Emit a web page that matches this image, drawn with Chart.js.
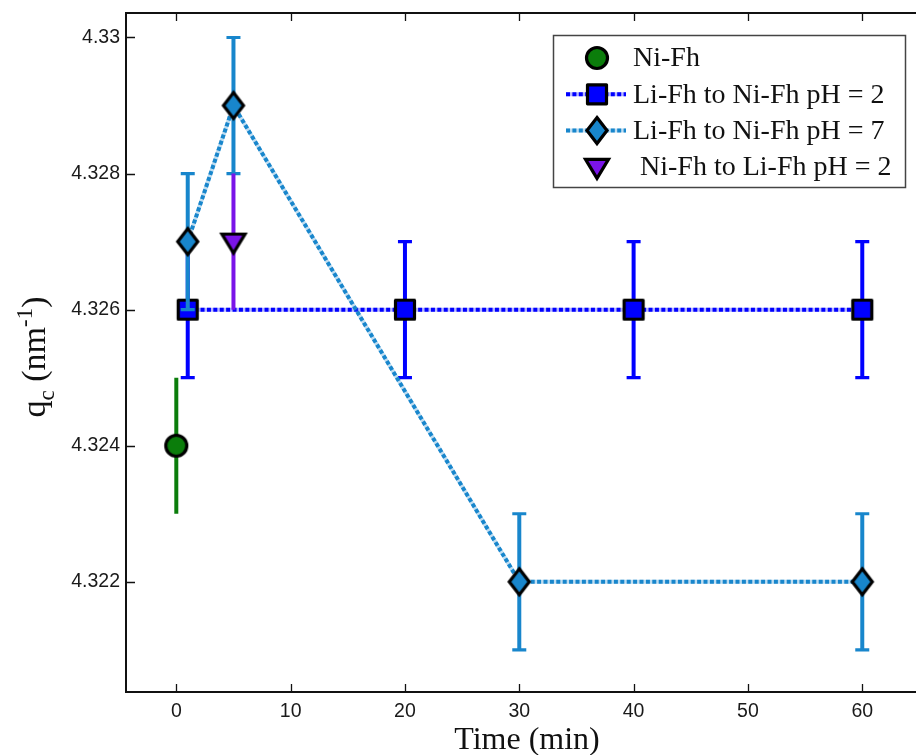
<!DOCTYPE html>
<html>
<head>
<meta charset="utf-8">
<script src="https://cdn.jsdelivr.net/npm/chart.js@4/dist/chart.umd.min.js"></script>
<style>
  html, body { margin: 0; padding: 0; background: #fff; }
</style>
</head>
<body>
<canvas id="qcChart" width="916" height="755"></canvas>
<script>
// data
const seriesNames = ['Ni-Fh', 'Li-Fh to Ni-Fh pH = 2', 'Li-Fh to Ni-Fh pH = 7', ' Ni-Fh to Li-Fh pH = 2'];

const niTime = [0];
const niQc = [4.324];
const niErr = [0.001];

const li2Time = [1, 20, 40, 60];
const li2Qc = [4.326, 4.326, 4.326, 4.326];
const li2Err = [0.001, 0.001, 0.001, 0.001];

const li7Time = [1, 5, 30, 60];
const li7Qc = [4.327, 4.329, 4.322, 4.322];
const li7Err = [0.001, 0.001, 0.001, 0.001];

const revTime = [5];
const revQc = [4.327];
const revErr = [0.001];

const xTicks = [0, 10, 20, 30, 40, 50, 60];
const yTicks = [4.322, 4.324, 4.326, 4.328, 4.33];
const yTickLabels = ['4.322', '4.324', '4.326', '4.328', '4.33'];

const serif = 'Liberation Serif, Times New Roman, serif';
const sans = 'Liberation Sans, Arial, sans-serif';

// marker shapes, drawn once and used as point styles
function drawMarker(ctx, kind, cx, cy, fill) {
    ctx.save();
    ctx.fillStyle = fill;
    ctx.strokeStyle = '#000';
    ctx.lineWidth = 3.2;
    ctx.lineJoin = 'round';
    ctx.beginPath();
    if (kind === 'circle') {
        ctx.arc(cx, cy, 10.5, 0, Math.PI * 2);
    } else if (kind === 'square') {
        ctx.rect(cx - 9.5, cy - 9.5, 19, 19);
    } else if (kind === 'diamond') {
        ctx.lineJoin = 'miter';
        ctx.moveTo(cx, cy - 13);
        ctx.lineTo(cx + 10, cy);
        ctx.lineTo(cx, cy + 13);
        ctx.lineTo(cx - 10, cy);
        ctx.closePath();
    } else if (kind === 'tridown') {
        ctx.lineJoin = 'miter';
        ctx.moveTo(cx - 11.5, cy - 7.5);
        ctx.lineTo(cx + 11.5, cy - 7.5);
        ctx.lineTo(cx, cy + 11.5);
        ctx.closePath();
    }
    ctx.fill();
    ctx.stroke();
    ctx.restore();
}

function makeMarker(kind, fill) {
    const c = document.createElement('canvas');
    c.width = 36;
    c.height = 36;
    drawMarker(c.getContext('2d'), kind, 18, 18, fill);
    return c;
}

const green = '#0b7d0b';
const blue = '#0000ff';
const lightBlue = '#1886cc';
const purple = '#7a14e8';

const seriesStyle = [
    { color: green, marker: 'circle', line: false, caps: false },
    { color: blue, marker: 'square', line: true, caps: true },
    { color: lightBlue, marker: 'diamond', line: true, caps: true },
    { color: purple, marker: 'tridown', line: false, caps: false }
];
const seriesErr = [niErr, li2Err, li7Err, revErr];
const seriesX = [niTime, li2Time, li7Time, revTime];
const seriesY = [niQc, li2Qc, li7Qc, revQc];

function toPoints(xs, ys) {
    return xs.map((x, i) => ({ x: x, y: ys[i] }));
}

const datasets = seriesNames.map((name, i) => ({
    label: name,
    data: toPoints(seriesX[i], seriesY[i]),
    showLine: seriesStyle[i].line,
    borderColor: seriesStyle[i].color,
    borderWidth: 4,
    borderDash: [4, 2.4],
    backgroundColor: seriesStyle[i].color,
    pointStyle: makeMarker(seriesStyle[i].marker, seriesStyle[i].color),
    pointRadius: 10,
    pointHoverRadius: 10,
    order: seriesNames.length - i,
    clip: false
}));

const extras = {
    id: 'extras',
    beforeDatasetDraw(chart, args) {
        const i = args.index;
        const ctx = chart.ctx;
        const xs = chart.scales.x, ys = chart.scales.y;
        const st = seriesStyle[i];
        ctx.save();
        // pale solid line under the dotted one
        if (st.line) {
            const pts = chart.getDatasetMeta(i).data;
            ctx.strokeStyle = st.color;
            ctx.globalAlpha = 0.28;
            ctx.lineWidth = 4;
            ctx.beginPath();
            pts.forEach((p, k) => k ? ctx.lineTo(p.x, p.y) : ctx.moveTo(p.x, p.y));
            ctx.stroke();
            ctx.globalAlpha = 1;
        }
        // error bars
        ctx.strokeStyle = st.color;
        seriesX[i].forEach((t, k) => {
            const px = xs.getPixelForValue(t);
            const lo = ys.getPixelForValue(seriesY[i][k] - seriesErr[i][k]);
            const hi = ys.getPixelForValue(seriesY[i][k] + seriesErr[i][k]);
            ctx.lineWidth = 4;
            ctx.beginPath();
            ctx.moveTo(px, lo);
            ctx.lineTo(px, hi);
            ctx.stroke();
            if (st.caps) {
                ctx.lineWidth = 3.2;
                ctx.beginPath();
                ctx.moveTo(px - 7, lo); ctx.lineTo(px + 7, lo);
                ctx.moveTo(px - 7, hi); ctx.lineTo(px + 7, hi);
                ctx.stroke();
            }
        });
        ctx.restore();
    },
    afterDraw(chart) {
        const ctx = chart.ctx;
        const a = chart.chartArea;
        const xs = chart.scales.x, ys = chart.scales.y;
        ctx.save();

        // frame: left, bottom, top (right edge falls outside the picture)
        ctx.strokeStyle = '#111';
        ctx.lineWidth = 2;
        ctx.beginPath();
        ctx.moveTo(a.right + 2, a.top);
        ctx.lineTo(a.left, a.top);
        ctx.lineTo(a.left, a.bottom);
        ctx.lineTo(a.right + 2, a.bottom);
        ctx.stroke();

        // inward ticks
        ctx.lineWidth = 1.3;
        ctx.beginPath();
        xTicks.forEach(v => {
            const px = Math.round(xs.getPixelForValue(v)) + 0.5;
            ctx.moveTo(px, a.bottom); ctx.lineTo(px, a.bottom - 8);
            ctx.moveTo(px, a.top); ctx.lineTo(px, a.top + 8);
        });
        yTicks.forEach(v => {
            const py = Math.round(ys.getPixelForValue(v)) + 0.5;
            ctx.moveTo(a.left, py); ctx.lineTo(a.left + 9, py);
        });
        ctx.stroke();

        // axis titles
        ctx.fillStyle = '#111';
        ctx.font = '32px ' + serif;
        ctx.textAlign = 'center';
        ctx.textBaseline = 'middle';
        ctx.fillText('Time (min)', 527, 741);

        ctx.translate(34, 357);
        ctx.rotate(-Math.PI / 2);
        const parts = [
            { t: 'q', size: 34, dy: 0 },
            { t: 'c', size: 23, dy: 9 },
            { t: ' (nm', size: 34, dy: 0 },
            { t: '-1', size: 23, dy: -13 },
            { t: ')', size: 34, dy: 0 }
        ];
        let total = 0;
        parts.forEach(p => { ctx.font = p.size + 'px ' + serif; total += ctx.measureText(p.t).width; });
        let cx = -total / 2;
        ctx.textAlign = 'left';
        ctx.textBaseline = 'alphabetic';
        parts.forEach(p => {
            ctx.font = p.size + 'px ' + serif;
            ctx.fillText(p.t, cx, 11 + p.dy);
            cx += ctx.measureText(p.t).width;
        });
        ctx.setTransform(1, 0, 0, 1, 0, 0);

        // legend
        ctx.fillStyle = '#fff';
        ctx.fillRect(553, 35, 352, 152);
        ctx.strokeStyle = '#444';
        ctx.lineWidth = 1.5;
        ctx.strokeRect(553.5, 35.5, 352, 152);
        ctx.font = '28px ' + serif;
        ctx.textAlign = 'left';
        ctx.textBaseline = 'middle';
        seriesNames.forEach((name, i) => {
            const y = 58 + i * 36.3;
            const st = seriesStyle[i];
            if (st.line) {
                ctx.strokeStyle = st.color;
                ctx.lineWidth = 4;
                ctx.globalAlpha = 0.28;
                ctx.beginPath(); ctx.moveTo(566, y); ctx.lineTo(626, y); ctx.stroke();
                ctx.globalAlpha = 1;
                ctx.setLineDash([4, 2.4]);
                ctx.beginPath(); ctx.moveTo(566, y); ctx.lineTo(626, y); ctx.stroke();
                ctx.setLineDash([]);
            }
            drawMarker(ctx, st.marker, 597, y, st.color);
            ctx.fillStyle = '#111';
            ctx.fillText(name, 633, y + 1);
        });
        ctx.restore();
    }
};

new Chart(document.getElementById('qcChart'), {
    type: 'scatter',
    data: { datasets: datasets },
    options: {
        responsive: false,
        animation: false,
        events: [],
        layout: { autoPadding: false, padding: { top: 13, right: 0, bottom: 0, left: 0 } },
        plugins: {
            legend: { display: false },
            tooltip: { enabled: false }
        },
        scales: {
            x: {
                type: 'linear',
                min: -4.4,
                max: 64.7,
                grid: { display: false, drawTicks: false },
                border: { display: false },
                afterBuildTicks: s => { s.ticks = xTicks.map(v => ({ value: v })); },
                afterFit: s => { s.height = 63; s.paddingLeft = 0; s.paddingRight = 0; },
                ticks: {
                    padding: 8,
                    color: '#1a1a1a',
                    font: { family: sans, size: 19.5 },
                    maxRotation: 0,
                    callback: v => String(v)
                }
            },
            y: {
                type: 'linear',
                min: 4.32038,
                max: 4.33036,
                grid: { display: false, drawTicks: false },
                border: { display: false },
                afterBuildTicks: s => { s.ticks = yTicks.map(v => ({ value: v })); },
                afterFit: s => { s.width = 126; s.paddingTop = 0; s.paddingBottom = 0; },
                ticks: {
                    padding: 6,
                    color: '#1a1a1a',
                    font: { family: sans, size: 19.5 },
                    callback: v => yTickLabels[yTicks.indexOf(v)]
                }
            }
        }
    },
    plugins: [extras]
});
</script>
</body>
</html>
